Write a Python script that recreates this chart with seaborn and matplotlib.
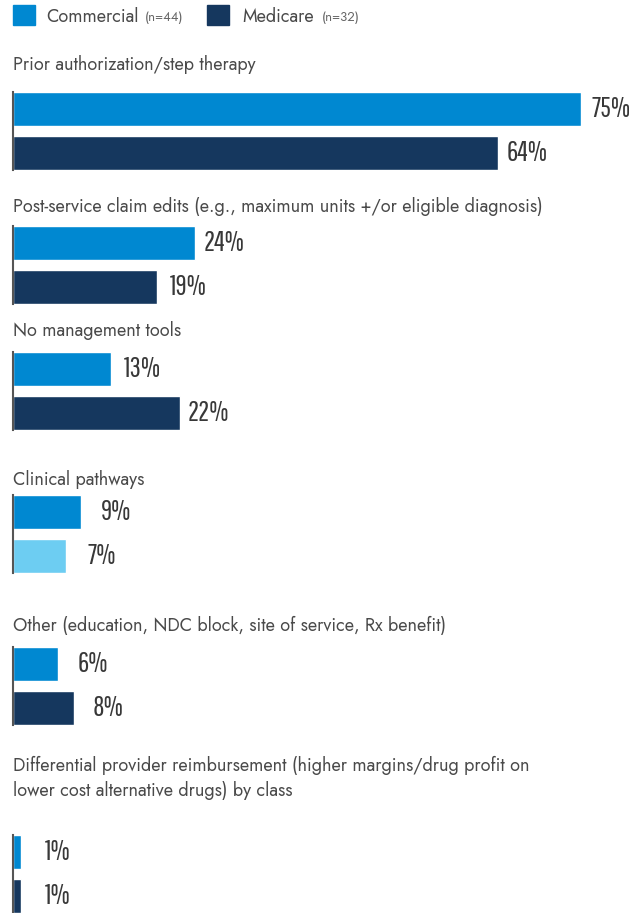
import matplotlib
matplotlib.use("Agg")
import matplotlib.pyplot as plt
from matplotlib.patches import Rectangle
import pandas as pd
import seaborn as sns

# Data
categories = [
    "Prior authorization/step therapy",
    "Post-service claim edits (e.g., maximum units +/or eligible diagnosis)",
    "No management tools",
    "Clinical pathways",
    "Other (education, NDC block, site of service, Rx benefit)",
    "Differential provider reimbursement (higher margins/drug profit on\nlower cost alternative drugs) by class",
]
commercial = [75, 24, 13, 9, 6, 1]
medicare = [64, 19, 22, 7, 8, 1]
series = ["Commercial", "Medicare"]
series_n = ["(n=44)", "(n=32)"]

# Colours
C_COM = "#0088D1"
C_MED = "#15375E"
C_LIGHT = "#6DCDF2"
group_colors = [
    [C_COM, C_MED],
    [C_COM, C_MED],
    [C_COM, C_MED],
    [C_COM, C_LIGHT],
    [C_COM, C_MED],
    [C_COM, C_MED],
]

# Layout in pixels (figure is 642 x 913)
W, H = 642, 913
bar_tops = [92, 226, 352, 495, 647, 835]
label_y = [64, 206, 331, 479, 625, 778]
block_h = 78
left_px = 13
axis_w_px = 568  # 0..75 %

NUM_FONT = ["Pathway Gothic One", "Oswald", "Roboto Condensed", "DejaVu Sans"]
TXT_FONT = ["Jost", "Lato", "DejaVu Sans"]

sns.set_theme(style="white")
plt.rcParams["font.family"] = TXT_FONT

fig = plt.figure(figsize=(W / 100, H / 100), dpi=100)

bar_w = 0.755
for i, cat in enumerate(categories):
    df = pd.DataFrame({"plan": series, "pct": [commercial[i], medicare[i]]})
    ax = fig.add_axes([left_px / W, 1 - (bar_tops[i] + block_h) / H,
                       axis_w_px / W, block_h / H])
    sns.barplot(data=df, x="pct", y="plan", hue="plan", palette=group_colors[i],
                width=bar_w, saturation=1, legend=False, ax=ax)
    ax.set_xlim(0, 75)
    ax.set_ylim(1 + bar_w / 2, -bar_w / 2)
    ax.set_xticks([])
    ax.set_yticks([])
    ax.set_xlabel("")
    ax.set_ylabel("")
    ax.patch.set_alpha(0)
    for side in ["top", "right", "bottom"]:
        ax.spines[side].set_visible(False)
    ax.spines["left"].set_color("#555555")
    ax.spines["left"].set_linewidth(1.5)
    for j, v in enumerate(df["pct"]):
        ax.annotate(f"{v}%", xy=(v, j), xytext=(36, 0), textcoords="offset points",
                    ha="right", va="center", fontsize=20, color="#383838",
                    family=NUM_FONT)
    fig.text(left_px / W, 1 - label_y[i] / H, cat, ha="left", va="center",
             fontsize=13, color="#4a4a4a", fontweight="light", linespacing=1.45)

# Legend drawn by hand
legend_sq = [13, 207]
legend_txt = [46, 242]
legend_n = [145, 322]
legend_cols = [C_COM, C_MED]
for k in range(2):
    fig.patches.append(Rectangle((legend_sq[k] / W, 1 - 25 / H), 22 / W, 20 / H,
                                 transform=fig.transFigure, color=legend_cols[k]))
    fig.text(legend_txt[k] / W, 1 - 16 / H, series[k], ha="left", va="center",
             fontsize=13, color="#4a4a4a", fontweight="light")
    fig.text(legend_n[k] / W, 1 - 17 / H, series_n[k], ha="left", va="center",
             fontsize=9.5, color="#666666", fontweight="light")

fig.savefig("out.png", dpi=100)
